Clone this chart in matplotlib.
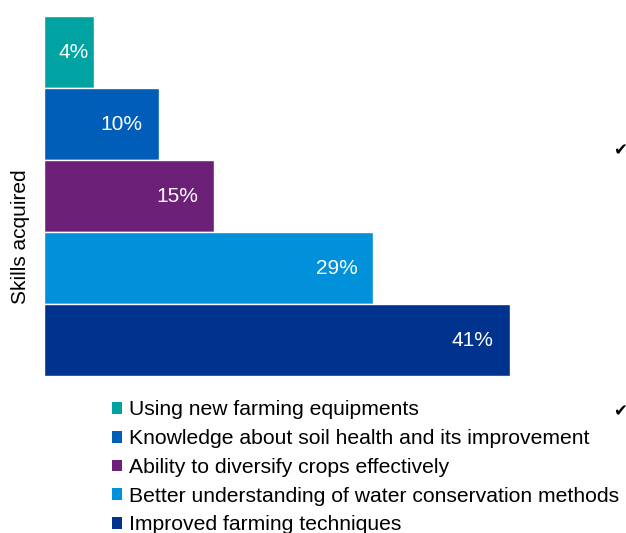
import matplotlib
matplotlib.use("Agg")
import matplotlib.pyplot as plt
from matplotlib.patches import Patch

plt.rcParams['font.family'] = ['Liberation Sans', 'DejaVu Sans']

categories = [
    "Using new farming equipments",
    "Knowledge about soil health and its improvement",
    "Ability to diversify crops effectively",
    "Better understanding of water conservation methods",
    "Improved farming techniques",
]
values = [4.4, 10.1, 15.0, 29.0, 41.0]
colors = ["#00A3A1", "#005EB8", "#6D2077", "#0091DA", "#00338D"]
ylabel = "Skills acquired"

W, H = 626, 533
fig = plt.figure(figsize=(W / 100, H / 100), dpi=100)
ax = fig.add_axes([44 / W, 1 - 376 / H, 511 / W, 360 / H])

positions = list(range(len(values)))
bars = ax.barh(positions, values, height=1.0, color=colors,
               edgecolor="white", linewidth=1)
ax.set_ylim(len(values) - 0.5, -0.5)
ax.set_xlim(0, 45)

for b, v in zip(bars, values):
    yc = b.get_y() + b.get_height() / 2
    if v < 6:
        ax.annotate(f"{v:.0f}%", (v / 2, yc), xytext=(5, 0), textcoords="offset pixels",
                    ha="center", va="center", color="white", fontsize=15)
    else:
        ax.annotate(f"{v:.0f}%", (v, yc), xytext=(-16, 0), textcoords="offset pixels",
                    ha="right", va="center", color="white", fontsize=15)

for s in ax.spines.values():
    s.set_visible(False)
ax.set_xticks([])
ax.set_yticks([])
ax.set_ylabel(ylabel, fontsize=15)
ax.yaxis.set_label_coords(-0.027, 0.386)

handles = [Patch(facecolor=c, edgecolor="none") for c in colors]
fig.legend(handles, categories, loc="upper left",
           bbox_to_anchor=(103.6 / W, 1 - 392 / H), bbox_transform=fig.transFigure,
           frameon=False, fontsize=15.25, handlelength=0.48, handleheight=0.48,
           handletextpad=0.3, labelspacing=0.46, borderaxespad=0)

fig.text(620 / W, 1 - 150 / H, "\u2714", ha="center", va="center", fontsize=12,
         family=["DejaVu Sans"])
fig.text(620 / W, 1 - 411 / H, "\u2714", ha="center", va="center", fontsize=12,
         family=["DejaVu Sans"])

fig.savefig("out.png", dpi=100)
